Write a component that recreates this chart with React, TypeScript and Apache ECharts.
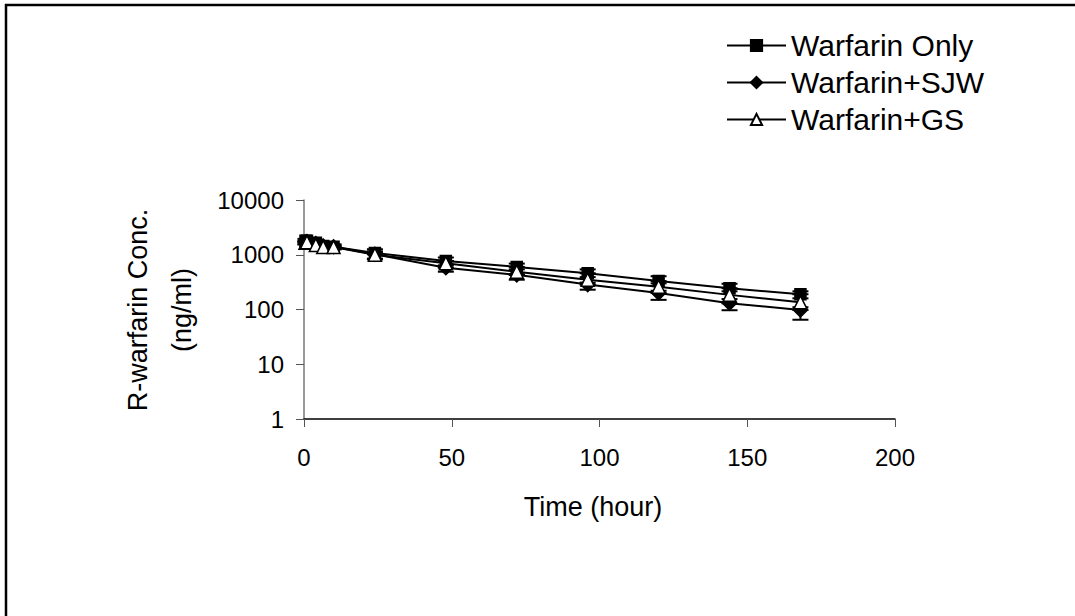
import React, { useEffect, useRef } from "react";
import * as echarts from "echarts";

const times = [0.5, 1, 4, 6.5, 10, 24, 48, 72, 96, 120, 144, 168];
const onlyVals = [1800, 1800, 1650, 1450, 1400, 1080, 770, 600, 460, 330, 245, 190];
const sjwVals = [1700, 1750, 1600, 1450, 1400, 1020, 580, 430, 285, 200, 130, 98];
const gsVals = [1650, 1700, 1500, 1380, 1380, 1000, 700, 490, 350, 260, 185, 135];
const onlyUpperSD = [150, 150, 150, 150, 150, 180, 120, 90, 80, 75, 50, 25];
const sjwLowerSD = [150, 150, 150, 150, 150, 200, 90, 80, 55, 50, 33, 33];
const gsSD = [100, 100, 100, 100, 100, 150, 60, 50, 40, 40, 30, 25];
const yTicks = [1, 10, 100, 1000, 10000];
const xTicks = [0, 50, 100, 150, 200];
const seriesNames = ["Warfarin Only", "Warfarin+SJW", "Warfarin+GS"];

const FONT = "Liberation Sans, Arial, sans-serif";

function errData(vals: number[], up: number[], down: number[]) {
  return times.map((t, i) => [t, vals[i] - down[i], vals[i] + up[i]]);
}

const zeros = times.map(() => 0);

function errorRender(params: any, api: any) {
  const x = api.value(0);
  const lo = api.coord([x, api.value(1)]);
  const hi = api.coord([x, api.value(2)]);
  const w = 8;
  const style = { stroke: "#000", lineWidth: 2 };
  return {
    type: "group",
    children: [
      { type: "line", shape: { x1: lo[0], y1: lo[1], x2: hi[0], y2: hi[1] }, style },
      { type: "line", shape: { x1: lo[0] - w, y1: lo[1], x2: lo[0] + w, y2: lo[1] }, style },
      { type: "line", shape: { x1: hi[0] - w, y1: hi[1], x2: hi[0] + w, y2: hi[1] }, style },
    ],
  };
}

export default function App() {
  const ref = useRef<HTMLDivElement>(null);
  useEffect(() => {
    const chart = echarts.init(ref.current!, undefined, { renderer: "svg" });
    const lineSeries = (name: string, vals: number[], symbol: string, size: number, fill: string) => ({
      name,
      type: "line",
      data: times.map((t, i) => [t, vals[i]]),
      symbol,
      symbolSize: size,
      showAllSymbol: true,
      lineStyle: { color: "#000", width: 2 },
      itemStyle: { color: fill, borderColor: "#000", borderWidth: 1.5 },
      z: 3,
    });
    chart.setOption({
      animation: false,
      backgroundColor: "#fff",
      textStyle: { fontFamily: FONT },
      grid: { left: 304, right: 180, top: 200, bottom: 197, containLabel: false },
      legend: {
        orient: "vertical",
        left: 721,
        top: 25,
        itemWidth: 59,
        itemHeight: 14,
        itemGap: 6,
        data: seriesNames,
        textStyle: { fontSize: 30, color: "#000", fontFamily: FONT, lineHeight: 31 },
      },
      xAxis: {
        type: "value",
        min: 0,
        max: 200,
        interval: 50,
        axisLine: { show: true, onZero: false, lineStyle: { color: "#000", width: 1.5 } },
        axisTick: { show: true, inside: false, length: 8, lineStyle: { color: "#555", width: 1 } },
        axisLabel: { fontSize: 24, color: "#000", margin: 26, fontFamily: FONT },
        splitLine: { show: false },
      },
      yAxis: {
        type: "log",
        logBase: 10,
        min: 1,
        max: 10000,
        axisLine: { show: true, lineStyle: { color: "#777", width: 1.5 } },
        axisTick: { show: true, inside: false, length: 8, lineStyle: { color: "#555", width: 1 } },
        axisLabel: {
          fontSize: 24,
          color: "#000",
          margin: 20,
          fontFamily: FONT,
          formatter: (v: number) => String(Math.round(v)),
        },
        splitLine: { show: false },
        minorTick: { show: false },
      },
      graphic: [
        {
          type: "rect",
          shape: { x: 6, y: 5, width: 1200, height: 800 },
          style: { fill: "none", stroke: "#000", lineWidth: 2.5 },
          silent: true,
        },
        {
          type: "text",
          x: 593,
          y: 507,
          style: {
            text: "Time (hour)",
            font: `27px ${FONT}`,
            fill: "#000",
            align: "center",
            verticalAlign: "middle",
          },
        },
        {
          type: "text",
          x: 160,
          y: 310,
          rotation: Math.PI / 2,
          style: {
            text: "R-warfarin Conc.\n(ng/ml)",
            font: `27px ${FONT}`,
            fill: "#000",
            align: "center",
            verticalAlign: "middle",
            lineHeight: 44,
          },
        },
      ],
      series: [
        {
          type: "custom",
          name: "errOnly",
          renderItem: errorRender,
          data: errData(onlyVals, onlyUpperSD, zeros),
          z: 2,
          silent: true,
        },
        {
          type: "custom",
          name: "errSJW",
          renderItem: errorRender,
          data: errData(sjwVals, zeros, sjwLowerSD),
          z: 2,
          silent: true,
        },
        {
          type: "custom",
          name: "errGS",
          renderItem: errorRender,
          data: errData(gsVals, gsSD, gsSD),
          z: 2,
          silent: true,
        },
        lineSeries(seriesNames[0], onlyVals, "rect", 11, "#000"),
        lineSeries(seriesNames[1], sjwVals, "diamond", 14, "#000"),
        lineSeries(seriesNames[2], gsVals, "triangle", 13, "#fff"),
      ],
    });
    return () => chart.dispose();
  }, []);
  return (
    <div
      ref={ref}
      style={{ position: "fixed", left: 0, top: 0, width: 1075, height: 616, background: "#fff" }}
    />
  );
}
